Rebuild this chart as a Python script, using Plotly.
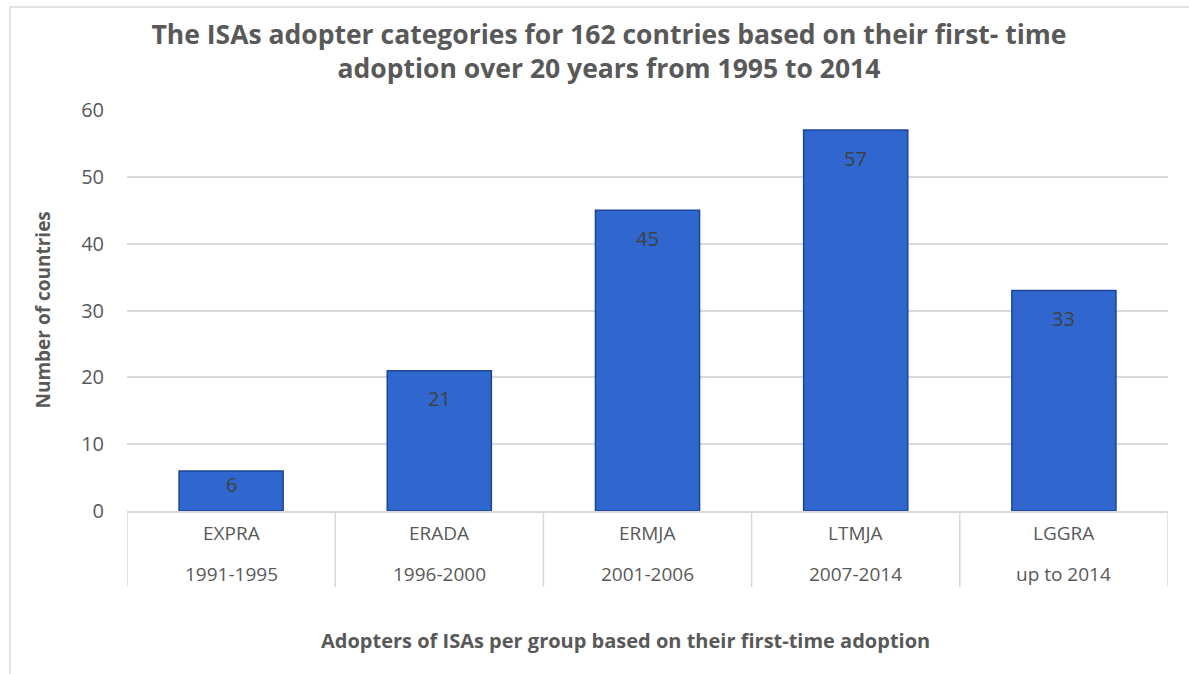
import plotly.graph_objects as go

groups = ["EXPRA", "ERADA", "ERMJA", "LTMJA", "LGGRA"]
periods = ["1991-1995", "1996-2000", "2001-2006", "2007-2014", "up to 2014"]
countries = [6, 21, 45, 57, 33]

W, H = 1189, 674
L, R, T, B = 127, 21, 110, 163
pw = W - L - R
ph = H - T - B
Y_MAX = 60

FONT = "Open Sans"
GREY = "#595959"
LINE = "#D9D9D9"

fig = go.Figure()
fig.add_trace(go.Bar(
    x=groups,
    y=countries,
    marker=dict(color="#2F67CF", line=dict(color="#1D4496", width=1.5)),
    width=0.5,
    hoverinfo="skip",
))

def px_x(p):
    return (p - L) / pw

def px_y(p):
    return (H - B - p) / ph

shapes = [
    dict(type="rect", xref="paper", yref="paper",
         x0=px_x(10), x1=px_x(1200), y0=px_y(685), y1=px_y(7),
         line=dict(color=LINE, width=1.5), fillcolor="rgba(0,0,0,0)", layer="below"),
]
for i in range(len(groups) + 1):
    shapes.append(dict(type="line", xref="x", yref="paper",
                       x0=i - 0.5, x1=i - 0.5, y0=0, y1=px_y(587),
                       line=dict(color=LINE, width=1.5)))

annotations = [
    dict(text="Adopters of ISAs per group based on their first-time adoption",
         xref="paper", yref="paper", x=px_x(625), y=px_y(640), showarrow=False,
         font=dict(family=FONT, size=20, color=GREY, weight="bold"),
         xanchor="center", yanchor="middle"),
    dict(text="Number of countries", textangle=-90,
         xref="paper", yref="paper", x=px_x(42), y=0.5, showarrow=False,
         font=dict(family=FONT, size=19, color=GREY, weight="bold"),
         xanchor="center", yanchor="middle"),
]
for g, p, v in zip(groups, periods, countries):
    annotations.append(dict(text=g, x=g, xref="x", yref="paper", y=px_y(533),
                            showarrow=False, yanchor="middle",
                            font=dict(family=FONT, size=19, color=GREY)))
    annotations.append(dict(text=p, x=g, xref="x", yref="paper", y=px_y(574),
                            showarrow=False, yanchor="middle",
                            font=dict(family=FONT, size=19, color=GREY)))
    bar_px = v / Y_MAX * ph
    annotations.append(dict(text=str(v), x=g, y=v, xref="x", yref="y",
                            showarrow=False, yanchor="middle",
                            yshift=-min(28, 0.35 * bar_px),
                            font=dict(family=FONT, size=20, color="#404040")))

fig.update_layout(
    width=W, height=H,
    margin=dict(l=L, r=R, t=T, b=B),
    paper_bgcolor="white", plot_bgcolor="white",
    showlegend=False,
    title=dict(
        text="The ISAs adopter categories for 162 contries based on their first- time<br>adoption over 20 years from 1995 to 2014",
        x=609 / W, xanchor="center", xref="container",
        y=1 - 44 / H, yanchor="middle", yref="container",
        font=dict(family=FONT, size=26.5, color=GREY, weight="bold"),
    ),
    xaxis=dict(
        type="category",
        range=[-0.5, len(groups) - 0.5],
        showgrid=False,
        showline=True, linecolor=LINE, linewidth=1.5,
        ticks="", showticklabels=False,
    ),
    yaxis=dict(
        range=[0, Y_MAX], dtick=10,
        showgrid=True, gridcolor=LINE, gridwidth=1.5,
        zeroline=False,
        ticks="", ticklabelstandoff=22,
        tickfont=dict(family=FONT, size=20, color=GREY),
    ),
    shapes=shapes,
    annotations=annotations,
)

fig.write_html("out.html")
